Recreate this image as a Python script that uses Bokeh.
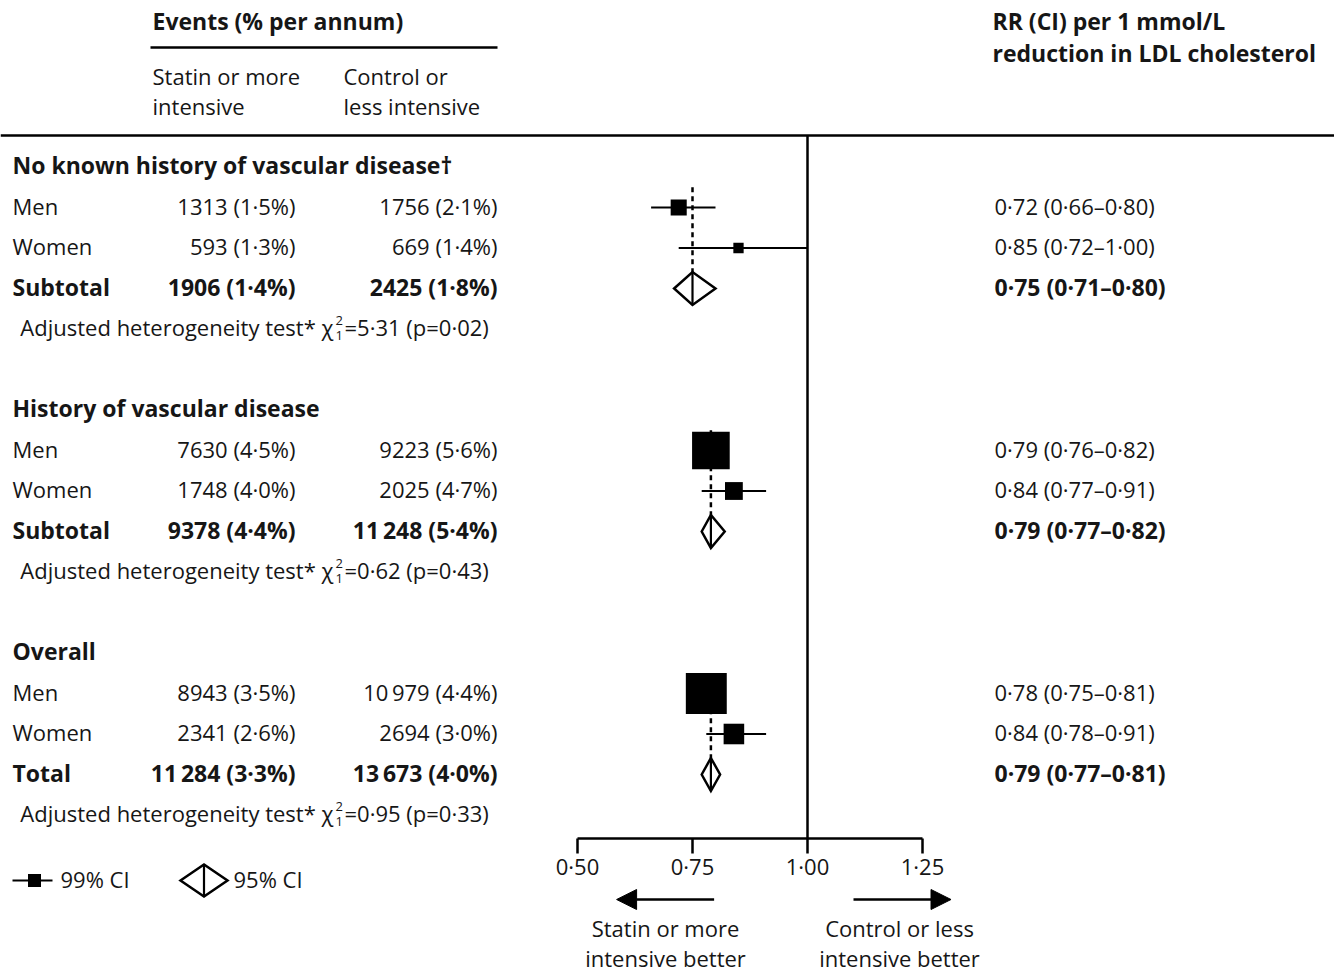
import math
from bokeh.plotting import figure
from bokeh.models import (Range1d, LinearAxis, FixedTicker, Arrow, NormalHead,
                          ColumnDataSource)
from bokeh.core.properties import value
from bokeh.embed import file_html
from bokeh.resources import INLINE

# ---------------- data ----------------
group_titles = ["No known history of vascular disease\u2020",
                "History of vascular disease",
                "Overall"]
row_labels = ["Men", "Women", "Subtotal",
              "Men", "Women", "Subtotal",
              "Men", "Women", "Total"]
statin_events = [1313, 593, 1906, 7630, 1748, 9378, 8943, 2341, 11284]
statin_pct = [1.5, 1.3, 1.4, 4.5, 4.0, 4.4, 3.5, 2.6, 3.3]
control_events = [1756, 669, 2425, 9223, 2025, 11248, 10979, 2694, 13673]
control_pct = [2.1, 1.4, 1.8, 5.6, 4.7, 5.4, 4.4, 3.0, 4.0]
rr = [0.72, 0.85, 0.75, 0.79, 0.84, 0.79, 0.78, 0.84, 0.79]
ci_lo = [0.66, 0.72, 0.71, 0.76, 0.77, 0.77, 0.75, 0.78, 0.77]
ci_hi = [0.80, 1.00, 0.80, 0.82, 0.91, 0.82, 0.81, 0.91, 0.81]
is_total = [False, False, True, False, False, True, False, False, True]
het_chi2 = [5.31, 0.62, 0.95]
het_p = [0.02, 0.43, 0.33]
tick_vals = [0.50, 0.75, 1.00, 1.25]
tick_labels = ["0\u00b750", "0\u00b775", "1\u00b700", "1\u00b725"]

# ---------------- layout ----------------
W, H = 1334, 973
PX_PER_UNIT = 460.0          # pixels per RR unit
X_ONE_IMG = 807.0            # x of RR = 1
ROW0_IMG = 166.5             # y of row 0
ROW_H = 40.5
TEXT_DY = -2.0               # small upward nudge for text baselines

def row_of(y_img):
    return (y_img - ROW0_IMG) / ROW_H

x_start = 1 - X_ONE_IMG / PX_PER_UNIT
x_end = 1 + (W - X_ONE_IMG) / PX_PER_UNIT
y_top = row_of(0)
y_bot = row_of(H)

FONT = value("Open Sans")
FS = "22px"
FSB = "23px"
TXT = "#161616"
INK = "#000000"

p = figure(width=W, height=H, x_range=Range1d(x_start, x_end),
           y_range=Range1d(y_bot, y_top), output_backend="svg",
           toolbar_location=None, x_axis_location=None, y_axis_location=None,
           min_border=0, outline_line_color=None)
p.extra_x_ranges = {"px": Range1d(0, W)}
p.grid.visible = False
p.background_fill_color = "white"
p.border_fill_color = "white"


def fmt_num(n):
    if n >= 10000:
        return f"{n:,}".replace(",", "\u2009")
    return str(n)


def fmt_dec(v, d):
    return f"{v:.{d}f}".replace(".", "\u00b7")


# row indices
item_rows, header_rows, het_rows = [], [], []
for g in range(len(group_titles)):
    header_rows.append(6 * g)
    item_rows += [6 * g + 1, 6 * g + 2, 6 * g + 3]
    het_rows.append(6 * g + 4)


def add_text(xs, ys, texts, align="left", bold=False, size=None, rng="px"):
    if size is None:
        size = FSB if bold else FS
    src = ColumnDataSource(dict(x=xs, y=[y + TEXT_DY / ROW_H for y in ys], t=texts))
    kw = dict(x="x", y="y", text="t", source=src, text_font=FONT,
              text_font_size=size, text_color=TXT, text_baseline="middle",
              text_align=align,
              text_font_style="bold" if bold else "normal")
    if rng:
        kw["x_range_name"] = rng
    p.text(**kw)


# ---- header ----
add_text([152], [row_of(22)], ["Events (% per annum)"], bold=True)
p.segment(x0=[150], x1=[497], y0=[row_of(47)], y1=[row_of(47)],
          line_color=INK, line_width=2.5, x_range_name="px")
add_text([152, 152, 343, 343],
         [row_of(77), row_of(107), row_of(77), row_of(107)],
         ["Statin or more", "intensive", "Control or", "less intensive"])
add_text([992, 992], [row_of(22), row_of(54)],
         ["RR (CI) per 1 mmol/L", "reduction in LDL cholesterol"], bold=True)
p.segment(x0=[0], x1=[W], y0=[row_of(135)], y1=[row_of(135)],
          line_color=INK, line_width=2.5, x_range_name="px")

# ---- group titles ----
add_text([12] * 3, header_rows, group_titles, bold=True)

# ---- table rows ----
col1 = [f"{fmt_num(n)} ({fmt_dec(v, 1)}%)" for n, v in zip(statin_events, statin_pct)]
col2 = [f"{fmt_num(n)} ({fmt_dec(v, 1)}%)" for n, v in zip(control_events, control_pct)]
col3 = [f"{fmt_dec(r, 2)} ({fmt_dec(a, 2)}\u2013{fmt_dec(b, 2)})"
        for r, a, b in zip(rr, ci_lo, ci_hi)]
for bold in (False, True):
    idx = [i for i in range(len(row_labels)) if is_total[i] == bold]
    ys = [item_rows[i] for i in idx]
    add_text([12] * len(idx), ys, [row_labels[i] for i in idx], bold=bold)
    add_text([295] * len(idx), ys, [col1[i] for i in idx], align="right", bold=bold)
    add_text([497] * len(idx), ys, [col2[i] for i in idx], align="right", bold=bold)
    add_text([994] * len(idx), ys, [col3[i] for i in idx], bold=bold)

# ---- heterogeneity tests ----
add_text([333] * 3, het_rows, ["Adjusted heterogeneity test* \u03c7"] * 3, align="right")
add_text([335] * 3, [r - 7 / ROW_H for r in het_rows], ["2"] * 3, size="13px")
add_text([335] * 3, [r + 8 / ROW_H for r in het_rows], ["1"] * 3, size="13px")
add_text([344] * 3, het_rows,
         [f"={fmt_dec(c, 2)} (p={fmt_dec(pv, 2)})" for c, pv in zip(het_chi2, het_p)])

# ---- forest marks ----
DIA_H = 16.5 / ROW_H
sub_idx = [i for i in range(len(rr)) if is_total[i]]
grp_idx = [i for i in range(len(rr)) if not is_total[i]]

# dashed lines at subtotal estimate
p.segment(x0=[rr[i] for i in sub_idx], x1=[rr[i] for i in sub_idx],
          y0=[item_rows[i] - 2 - 0.5 for i in sub_idx],
          y1=[item_rows[i] - DIA_H for i in sub_idx],
          line_color=INK, line_width=2.5, line_dash="5 4")

# reference line at 1
axis_row = row_of(838)
p.segment(x0=[1.0], x1=[1.0], y0=[row_of(135)], y1=[axis_row],
          line_color=INK, line_width=2.5)

# 99% CI lines + squares
p.segment(x0=[ci_lo[i] for i in grp_idx], x1=[ci_hi[i] for i in grp_idx],
          y0=[item_rows[i] for i in grp_idx], y1=[item_rows[i] for i in grp_idx],
          line_color=INK, line_width=2.2)
sizes = [0.29 * math.sqrt(statin_events[i] + control_events[i]) for i in grp_idx]
p.rect(x=[rr[i] for i in grp_idx], y=[item_rows[i] for i in grp_idx],
       width=sizes, height=sizes, width_units="screen", height_units="screen",
       fill_color=INK, line_color=None)

# 95% CI diamonds
p.patches(xs=[[ci_lo[i], rr[i], ci_hi[i], rr[i]] for i in sub_idx],
          ys=[[item_rows[i], item_rows[i] - DIA_H, item_rows[i], item_rows[i] + DIA_H]
              for i in sub_idx],
          fill_color="white", line_color=INK, line_width=2.5, line_join="miter")
p.segment(x0=[rr[i] for i in sub_idx], x1=[rr[i] for i in sub_idx],
          y0=[item_rows[i] - DIA_H for i in sub_idx],
          y1=[item_rows[i] + DIA_H for i in sub_idx],
          line_color=INK, line_width=2.2)

# ---- axis ----
ax = LinearAxis(fixed_location=axis_row, bounds=(tick_vals[0], tick_vals[-1]),
                ticker=FixedTicker(ticks=tick_vals, minor_ticks=[]),
                major_label_overrides={v: t for v, t in zip(tick_vals, tick_labels)},
                axis_line_color=INK, axis_line_width=2.5,
                major_tick_line_color=INK, major_tick_line_width=2.5,
                major_tick_out=15, major_tick_in=0,
                minor_tick_out=0, minor_tick_in=0,
                major_label_text_font="Open Sans", major_label_text_font_size="22px",
                major_label_text_color=TXT, major_label_standoff=-3)
p.add_layout(ax, "below")

# ---- direction arrows ----
arrow_row = row_of(899)
p.add_layout(Arrow(x_start=0.797, x_end=0.585, y_start=arrow_row, y_end=arrow_row,
                   line_color=INK, line_width=2.5,
                   end=NormalHead(size=20, fill_color=INK, line_color=INK, line_width=1)))
p.add_layout(Arrow(x_start=1.100, x_end=1.312, y_start=arrow_row, y_end=arrow_row,
                   line_color=INK, line_width=2.5,
                   end=NormalHead(size=20, fill_color=INK, line_color=INK, line_width=1)))
add_text([665, 665, 899, 899],
         [row_of(929), row_of(959), row_of(929), row_of(959)],
         ["Statin or more", "intensive better", "Control or less", "intensive better"],
         align="center")

# ---- legend ----
leg_row = row_of(880)
p.segment(x0=[12], x1=[52], y0=[leg_row], y1=[leg_row], line_color=INK,
          line_width=2.2, x_range_name="px")
p.rect(x=[34], y=[leg_row], width=13, height=13, width_units="screen",
       height_units="screen", fill_color=INK, line_color=None, x_range_name="px")
add_text([60], [leg_row], ["99% CI"])
LEG_DH = 16 / ROW_H
p.patch(x=[180, 203.5, 227, 203.5],
        y=[leg_row, leg_row - LEG_DH, leg_row, leg_row + LEG_DH],
        fill_color="white", line_color=INK, line_width=2.5, line_join="miter",
        x_range_name="px")
p.segment(x0=[203.5], x1=[203.5], y0=[leg_row - LEG_DH], y1=[leg_row + LEG_DH],
          line_color=INK, line_width=2.2, x_range_name="px")
add_text([233], [leg_row], ["95% CI"])

open("out.html", "w").write(file_html(p, INLINE))
